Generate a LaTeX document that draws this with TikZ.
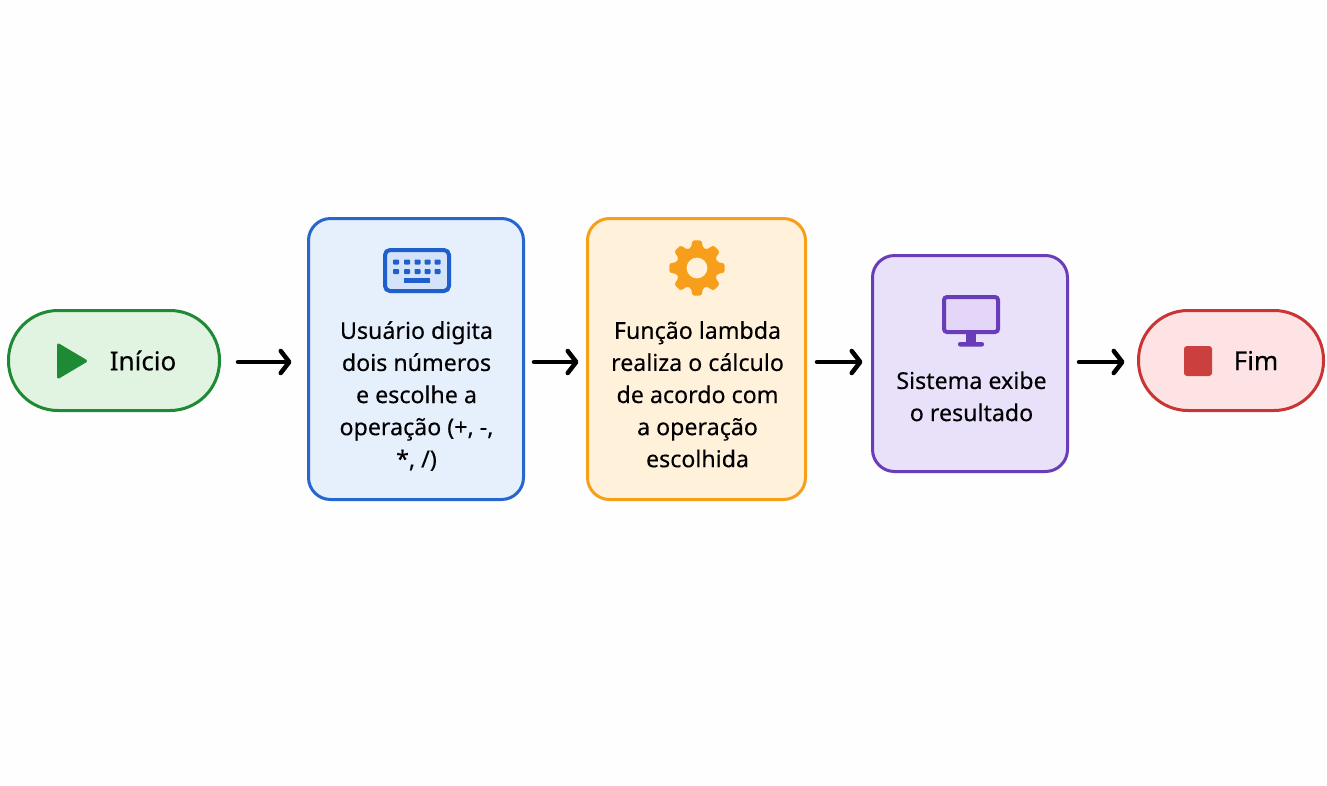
\documentclass[tikz,border=0pt]{standalone}
\usepackage{fontspec}
\setmainfont[FakeBold=0.25]{Noto Sans}
\usetikzlibrary{arrows.meta}
\definecolor{grS}{HTML}{1E8A34}\definecolor{grF}{HTML}{E0F4E1}
\definecolor{blS}{HTML}{2566D0}\definecolor{blF}{HTML}{E6EFFC}
\definecolor{orS}{HTML}{F79F1A}\definecolor{orF}{HTML}{FFF1DA}
\definecolor{puS}{HTML}{6A3DB8}\definecolor{puF}{HTML}{E9E0FA}
\definecolor{reS}{HTML}{C93535}\definecolor{reF}{HTML}{FDE3E3}
\definecolor{bluekey}{HTML}{1F5FCB}
\definecolor{screenpu}{HTML}{E3D6F8}
\definecolor{screenbl}{HTML}{D5E3FA}
\tikzset{
  card/.style={draw,line width=3pt,rounded corners=22pt,inner sep=0pt,minimum width=#1},
  pill/.style={draw,line width=3pt,rounded corners=49.5pt,inner sep=0pt,minimum height=100pt,minimum width=#1},
  txt/.style={align=center,inner sep=0pt,text=black,font=\fontsize{23.2}{32.1}\selectfont},
  bigtxt/.style={inner sep=0pt,text=black,font=\fontsize{26}{32}\selectfont},
  flow/.style={line width=4.5pt,line cap=round,-{Straight Barb[round,length=8.5pt,width=22pt,line width=4.5pt]},shorten <=17pt,shorten >=15.5pt}
}
\begin{document}
\begin{tikzpicture}[x=1pt,y=-1pt]
\useasboundingbox (0,0) rectangle (1327,785);
\fill[white!99.5!black] (0,0) rectangle (1327,785);
\coordinate (axis) at (0,362);
% boxes
\node[pill=211pt,fill=grF,draw=grS] (start) at (114,360.5) {};
\node[card=215pt,minimum height=281pt,fill=blF,draw=blS] (input) at (416,359) {};
\node[card=218pt,minimum height=281pt,fill=orF,draw=orS] (calc) at (696.5,359) {};
\node[card=195pt,minimum height=216pt,fill=puF,draw=puS] (show) at (970,363.5) {};
\node[pill=185pt,fill=reF,draw=reS] (end) at (1231,360.5) {};
% connectors
\draw[flow] (start.east |- axis) -- (input.west |- axis);
\draw[flow,shorten <=9pt,shorten >=7.5pt] (input.east |- axis) -- (calc.west |- axis);
\draw[flow,shorten <=10pt,shorten >=8.5pt] (calc.east |- axis) -- (show.west |- axis);
\draw[flow,shorten <=10pt,shorten >=12.5pt] (show.east |- axis) -- (end.west |- axis);
% labels
\node[bigtxt] (t1) at (143,360.5) {Início};
\node[txt] (t2) at (416.5,396) {Usuário digita\\dois números\\e escolhe a\\operação (+, -,\\*, /)};
\node[txt] (t3) at (697.5,394.3) {Função lambda\\realiza o cálculo\\de acordo com\\a operação\\escolhida};
\node[txt] (t4) at (971.5,396.3) {Sistema exibe\\o resultado};
\node[bigtxt] (t5) at (1256,360.5) {Fim};
% play icon
\fill[grS,draw=grS,line width=3pt,line join=round] (58.5,345) -- (85.5,361) -- (58.5,377) -- cycle;
% stop icon
\fill[reS!95!white,rounded corners=3pt] (1184,346) rectangle (1212,376);
% keyboard
\draw[bluekey,fill=screenbl,line width=4pt,rounded corners=5pt] (385,250) rectangle (449,291);
\foreach \kx in {396,407,417.5,427.5,437.5}{
  \fill[bluekey,rounded corners=0.8pt] (\kx-3,259.5) rectangle (\kx+3,264.5);
  \fill[bluekey,rounded corners=0.8pt] (\kx-3,269) rectangle (\kx+3,274);
}
\fill[bluekey] (404,278) rectangle (430,283);
% gear
\begin{scope}[shift={(697,268)}]
\fill[orS,even odd rule,rounded corners=1.5pt]
  (-17:21) \foreach \a in {0,45,...,315}{
    -- (\a-17:21) -- (\a-9:28) -- (\a+9:28) -- (\a+17:21)
  } -- cycle
  (0,0) circle[radius=10.5];
\end{scope}
% monitor
\draw[puS,fill=screenpu,line width=4pt,rounded corners=3pt] (944,297) rectangle (998,332);
\fill[puS] (966,334) rectangle (976,343);
\fill[puS,rounded corners=2pt] (958,342) rectangle (984,346.5);
\end{tikzpicture}
\end{document}
